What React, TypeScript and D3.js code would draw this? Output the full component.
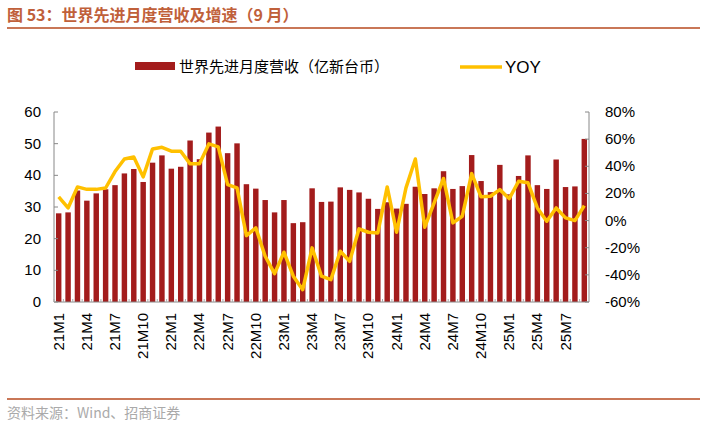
import React from "react";
import * as d3 from "d3";

// monthly revenue (亿新台币), 21M1 .. 25M9
const months: string[] = [];
[21, 22, 23, 24, 25].forEach((yr) => {
  const last = yr === 25 ? 9 : 12;
  for (let m = 1; m <= last; m++) months.push(`${yr}M${m}`);
});

const revenue = [
  28.0, 28.3, 35.2, 32.0, 34.3, 35.6, 36.9, 40.6, 42.0, 37.9, 44.0, 46.3,
  42.1, 42.7, 51.0, 45.1, 53.5, 55.4, 47.0, 50.1, 37.2, 35.8, 32.2, 28.3,
  32.2, 24.9, 25.2, 35.9, 31.6, 31.7, 36.2, 35.4, 34.6, 32.6, 29.4, 31.5,
  29.5, 31.0, 36.4, 34.1, 35.9, 41.3, 35.7, 36.6, 46.4, 38.2, 34.7, 43.3,
  34.0, 39.8, 46.3, 36.9, 35.7, 45.0, 36.3, 36.5, 51.5,
];

// YOY growth (%)
const yoy = [
  17.5, 9.3, 24.8, 23.0, 23.0, 24.0, 36.1, 45.4, 46.9, 32.2, 52.8, 54.0,
  51.1, 51.1, 41.8, 41.8, 56.5, 54.3, 26.5, 24.1, -11.1, -5.4, -26.3, -39.1,
  -23.3, -41.0, -50.9, -20.1, -41.0, -43.5, -22.6, -30.0, -6.1, -8.6, -9.1, 24.8,
  -8.6, 24.1, 45.4, -4.9, 13.0, 31.0, -1.7, 3.2, 34.6, 17.5, 17.9, 22.8,
  16.2, 29.0, 27.8, 9.3, -0.5, 9.3, 2.0, 0.0, 11.0,
];

const leftTicks = [0, 10, 20, 30, 40, 50, 60];
const rightTicks = [-60, -40, -20, 0, 20, 40, 60, 80];

const W = 706;
const H = 426;
const m = { left: 54, right: 117, top: 112, bottom: 124 };
const font = "Arial, 'Liberation Sans', sans-serif";
const cjk = "'Noto Sans CJK SC', sans-serif";
const barColor = "#a31c1c";
const lineColor = "#ffc000";
const accent = "#c0603a";

export default function App() {
  const x = d3
    .scaleBand<string>()
    .domain(months)
    .range([m.left, W - m.right])
    .paddingInner(0.42)
    .paddingOuter(0.21);
  const yL = d3.scaleLinear().domain([0, 60]).range([H - m.bottom, m.top]);
  const yR = d3.scaleLinear().domain([-60, 80]).range([H - m.bottom, m.top]);
  const cx = (d: string) => (x(d) as number) + x.bandwidth() / 2;

  const line = d3
    .line<number>()
    .x((_, i) => cx(months[i]))
    .y((d) => yR(d));

  const baseY = H - m.bottom;
  const rightX = W - m.right;

  return (
    <svg
      width={W}
      height={H}
      style={{ position: "absolute", left: 0, top: 0, background: "#fff" }}
    >
      {/* title */}
      <text x={7} y={21} fill={accent} fontSize={16} fontWeight="bold" fontFamily={cjk}>
        图 53：世界先进月度营收及增速（9 月）
      </text>
      <line x1={7} x2={700} y1={28} y2={28} stroke={accent} strokeWidth={2} opacity={0.85} />

      {/* legend */}
      <rect x={135} y={62} width={40} height={8} fill={barColor} />
      <text x={179} y={72} fontSize={15} fontFamily={cjk} fill="#000">
        世界先进月度营收（亿新台币）
      </text>
      <line x1={460} x2={502} y1={67} y2={67} stroke={lineColor} strokeWidth={3.5} />
      <text x={505} y={73} fontSize={17} fontFamily={font} fill="#000">
        YOY
      </text>

      {/* bars */}
      {revenue.map((v, i) => (
        <rect
          key={months[i]}
          x={x(months[i])}
          y={yL(v)}
          width={x.bandwidth()}
          height={baseY - yL(v)}
          fill={barColor}
        />
      ))}

      {/* axes */}
      <line x1={m.left} x2={m.left} y1={m.top} y2={baseY} stroke="#888" />
      <line x1={rightX} x2={rightX} y1={m.top} y2={baseY} stroke="#888" />
      <line x1={m.left} x2={rightX} y1={baseY} y2={baseY} stroke="#888" />
      {leftTicks.map((t) => (
        <g key={t}>
          <line x1={m.left} x2={m.left + 4} y1={yL(t)} y2={yL(t)} stroke="#888" />
          <text
            x={41}
            y={yL(t) + 5}
            textAnchor="end"
            fontSize={15}
            fontFamily={font}
            fill="#000"
          >
            {t}
          </text>
        </g>
      ))}
      {rightTicks.map((t) => (
        <g key={t}>
          <line x1={rightX - 4} x2={rightX} y1={yR(t)} y2={yR(t)} stroke="#888" />
          <text x={605} y={yR(t) + 5} fontSize={15} fontFamily={font} fill="#000">
            {t}%
          </text>
        </g>
      ))}
      {months.map((d, i) => (
        <line
          key={d}
          x1={(x(d) as number) - (x.step() * 0.42) / 2}
          x2={(x(d) as number) - (x.step() * 0.42) / 2}
          y1={baseY}
          y2={baseY - 3}
          stroke="#aaa"
        />
      ))}
      {months.map((d, i) =>
        i % 3 === 0 ? (
          <text
            key={d}
            transform={`translate(${cx(d) + 5},${baseY + 11}) rotate(-90)`}
            textAnchor="end"
            fontSize={15}
            fontFamily={font}
            fill="#000"
          >
            {d}
          </text>
        ) : null
      )}

      {/* yoy line */}
      <path
        d={line(yoy) || ""}
        fill="none"
        stroke={lineColor}
        strokeWidth={3.5}
        strokeLinejoin="round"
      />

      {/* footer */}
      <line x1={7} x2={700} y1={399} y2={399} stroke={accent} strokeWidth={2} opacity={0.85} />
      <text x={7} y={418} fontSize={14} fontFamily={cjk} fill="#aaa">
        资料来源：Wind、招商证券
      </text>
    </svg>
  );
}
